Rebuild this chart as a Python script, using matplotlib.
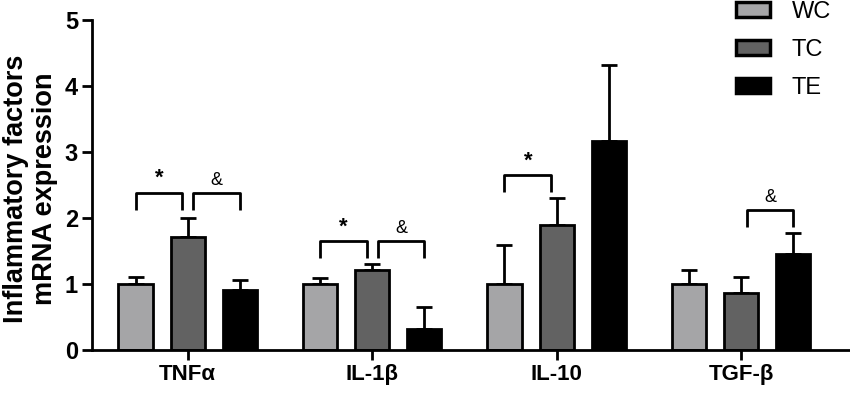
import matplotlib
matplotlib.use("Agg")
import matplotlib.pyplot as plt
import numpy as np

plt.rcParams['font.family'] = ['Liberation Sans', 'DejaVu Sans']

categories = ["TNF\u03b1", "IL-1\u03b2", "IL-10", "TGF-\u03b2"]
groups = ["WC", "TC", "TE"]
wc_mean = [1.0, 1.0, 1.0, 1.0]
wc_err = [0.11, 0.10, 0.59, 0.21]
tc_mean = [1.71, 1.21, 1.90, 0.86]
tc_err = [0.29, 0.09, 0.40, 0.25]
te_mean = [0.91, 0.32, 3.17, 1.45]
te_err = [0.15, 0.33, 1.15, 0.32]
colors = ["#a5a5a7", "#626262", "#000000"]

# significance brackets: (category index, group a, group b, height, symbol)
sig = [(0, 0, 1, 2.38, "*"), (0, 1, 2, 2.38, "&"),
       (1, 0, 1, 1.65, "*"), (1, 1, 2, 1.65, "&"),
       (2, 0, 1, 2.65, "*"),
       (3, 1, 2, 2.12, "&")]

fig = plt.figure(figsize=(8.5, 3.93), dpi=100)
ax = fig.add_axes([0.108, 0.109, 0.892, 0.84])

x = np.arange(len(categories))
off = 0.283
w = 0.185
means = [wc_mean, tc_mean, te_mean]
errs = [wc_err, tc_err, te_err]
for i, (m, e, c, g) in enumerate(zip(means, errs, colors, groups)):
    pos = x + (i - 1) * off
    ax.bar(pos, m, width=w, color=c, edgecolor="black", linewidth=2, label=g, zorder=2)
    ax.errorbar(pos, m, yerr=[np.zeros(len(e)), e], fmt="none", ecolor="black",
                elinewidth=2, capsize=6, capthick=2, zorder=1)

for ci, a, b, h, s in sig:
    xa = ci + (a - 1) * off
    xb = ci + (b - 1) * off
    if a == 1:
        xa += 0.03
    if b == 1:
        xb -= 0.03
    ax.plot([xa, xa, xb, xb], [h - 0.25, h, h, h - 0.25], color="black", lw=2, solid_capstyle="butt")
    ax.text((xa + xb) / 2, h + 0.06, s, ha="center", va="bottom",
            fontsize=16 if s == "*" else 13, fontweight="bold" if s == "*" else "normal")

ax.set_xlim(-0.52, 3.59)
ax.set_ylim(0, 5)
ax.set_yticks([0, 1, 2, 3, 4, 5])
ax.set_xticks(x)
ax.set_xticklabels(categories, fontsize=16, fontweight="bold")
for lab in ax.get_yticklabels():
    lab.set_fontsize(17)
    lab.set_fontweight("bold")
ax.tick_params(axis="y", width=2, length=7, direction="out", pad=3)
ax.tick_params(axis="x", width=2, length=7, direction="out", pad=3)
for sp in ["top", "right"]:
    ax.spines[sp].set_visible(False)
for sp in ["left", "bottom"]:
    ax.spines[sp].set_linewidth(2)
ax.set_ylabel("Inflammatory factors\nmRNA expression", fontsize=19.5, fontweight="bold",
              linespacing=1.15)
ax.yaxis.set_label_coords(-0.045, 0.49)

leg = fig.legend(loc="upper left", bbox_to_anchor=(736 / 850, 1 - 1 / 393),
                 bbox_transform=fig.transFigure, frameon=False, fontsize=17,
                 borderpad=0, borderaxespad=0,
                 labelspacing=0.68, handlelength=1.44, handleheight=0.6, handletextpad=0.93)
for p in leg.get_patches():
    p.set_linewidth(2.5)

fig.savefig("out.png", dpi=100)
